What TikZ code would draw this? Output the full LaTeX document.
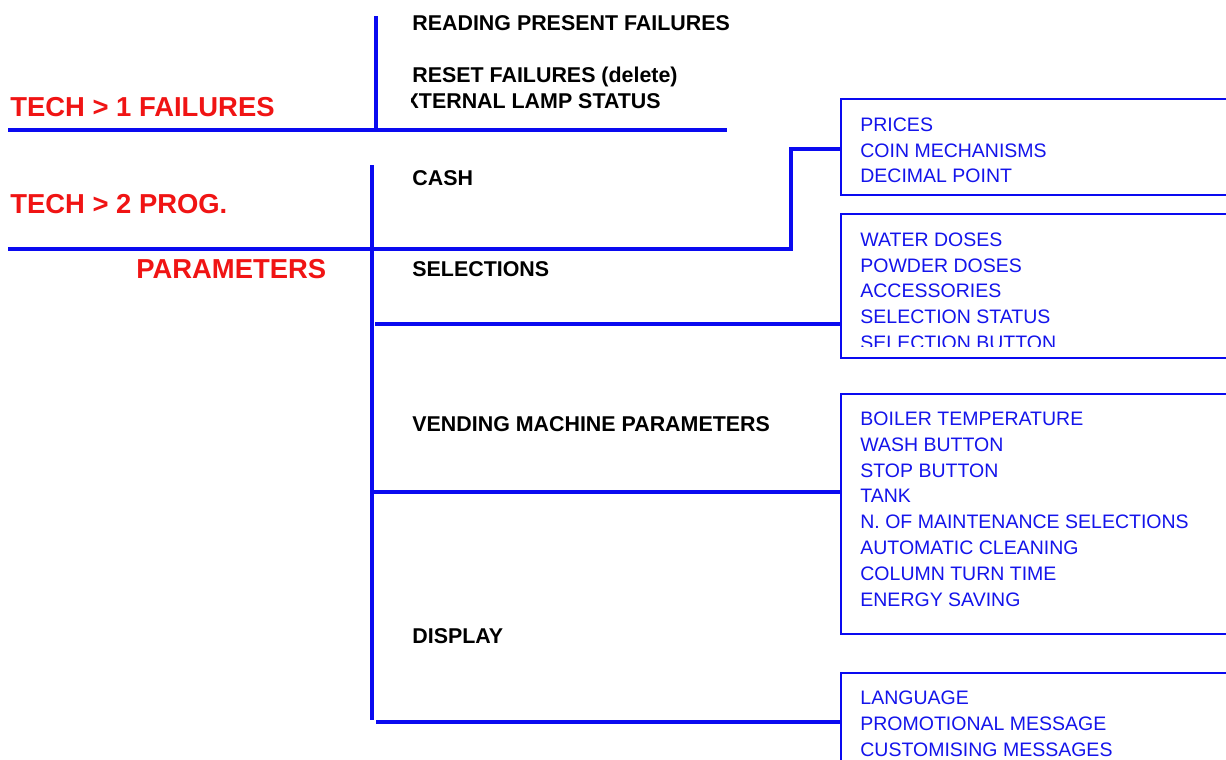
\documentclass[tikz,border=0pt]{standalone}
\usepackage{fontspec}
\setmainfont{Liberation Sans}
\definecolor{lineblue}{RGB}{10,10,240}
\definecolor{textblue}{RGB}{20,20,235}
\definecolor{techred}{RGB}{240,20,20}
\tikzset{
  mainline/.style={draw=lineblue, line width=1.7pt},
  boxnode/.style={draw=lineblue, line width=1pt, anchor=north west, minimum width=205pt, inner sep=0pt},
  menuitem/.style={anchor=base west, inner sep=0pt, font=\bfseries\fontsize{10.7}{12}\selectfont, text=black},
  techlabel/.style={anchor=base west, inner sep=0pt, font=\bfseries\fontsize{13.7}{16}\selectfont, text=techred},
  subitem/.style={anchor=base west, inner sep=0pt, font=\fontsize{9.75}{12}\selectfont, text=textblue}
}
\begin{document}
\begin{tikzpicture}[x=0.5pt, y=-0.5pt]
\useasboundingbox (0,0) rectangle (1226,760);
\clip (0,0) rectangle (1226,760);
\fill[white] (0,0) rectangle (1226,760);

% coordinates of the trees
\coordinate (v1t) at (376,16);
\coordinate (v1b) at (376,128);
\coordinate (h1l) at (8,130);
\coordinate (h1r) at (727,130);
\coordinate (v2t) at (372,165);
\coordinate (v2b) at (372,720);
\coordinate (h2l) at (8,249);
\coordinate (h2u) at (791,149);
\coordinate (c2) at (375,324);
\coordinate (c3) at (372,492);
\coordinate (c4) at (376,722);

% boxes
\node[boxnode, minimum height=48pt] (b1) at (840,98) {};
\node[boxnode, minimum height=72pt] (b2) at (840,213) {};
\node[boxnode, minimum height=120pt] (b3) at (840,393) {};
\node[boxnode, minimum height=60pt] (b4) at (840,672) {};

% lines
\draw[mainline] (v1t) -- (v1b);
\draw[mainline] (h1l) -- (h1r);
\draw[mainline] (v2t) -- (v2b);
\draw[mainline] (h2l) -| (h2u) -- (b1.west |- h2u);
\draw[mainline] (c2) -- (b2.west |- c2);
\draw[mainline] (c3) -- (b3.west |- c3);
\draw[mainline] (c4) -- (b4.west |- c4);

% red labels
\node[techlabel] (t1) at (10,116) {TECH > 1 FAILURES};
\node[techlabel] (t2) at (10,213) {TECH > 2 PROG.};
\node[techlabel] (t3) at (136,278) {PARAMETERS};

% black menu items
\node[menuitem] (m1) at (412,30) {READING PRESENT FAILURES};
\node[menuitem] (m2) at (412,82) {RESET FAILURES (delete)};
\begin{scope}
\clip (411,85) rectangle (800,115);
\node[menuitem] (m3) at (390,108) {EXTERNAL LAMP STATUS};
\end{scope}
\node[menuitem] (m4) at (412,185) {CASH};
\node[menuitem] (m5) at (412,276) {SELECTIONS};
\node[menuitem] (m6) at (412,431) {VENDING MACHINE PARAMETERS};
\node[menuitem] (m7) at (412,643) {DISPLAY};

% blue sub items
\node[subitem] (p1) at (860,131) {PRICES};
\node[subitem] (p2) at (860,157) {COIN MECHANISMS};
\node[subitem] (p3) at (860,182) {DECIMAL POINT};

\begin{scope}
\clip (842,215) rectangle (1226,346);
\node[subitem] (s1) at (860,246) {WATER DOSES};
\node[subitem] (s2) at (860,272) {POWDER DOSES};
\node[subitem] (s3) at (860,297) {ACCESSORIES};
\node[subitem] (s4) at (860,323) {SELECTION STATUS};
\node[subitem] (s5) at (860,349) {SELECTION BUTTON};
\end{scope}

\node[subitem] (v1) at (860,425) {BOILER TEMPERATURE};
\node[subitem] (v2) at (860,451) {WASH BUTTON};
\node[subitem] (v3) at (860,477) {STOP BUTTON};
\node[subitem] (v4) at (860,502) {TANK};
\node[subitem] (v5) at (860,528) {N. OF MAINTENANCE SELECTIONS};
\node[subitem] (v6) at (860,554) {AUTOMATIC CLEANING};
\node[subitem] (v7) at (860,580) {COLUMN TURN TIME};
\node[subitem] (v8) at (860,606) {ENERGY SAVING};

\node[subitem] (d1) at (860,704) {LANGUAGE};
\node[subitem] (d2) at (860,730) {PROMOTIONAL MESSAGE};
\node[subitem] (d3) at (860,756) {CUSTOMISING MESSAGES};
\end{tikzpicture}
\end{document}
